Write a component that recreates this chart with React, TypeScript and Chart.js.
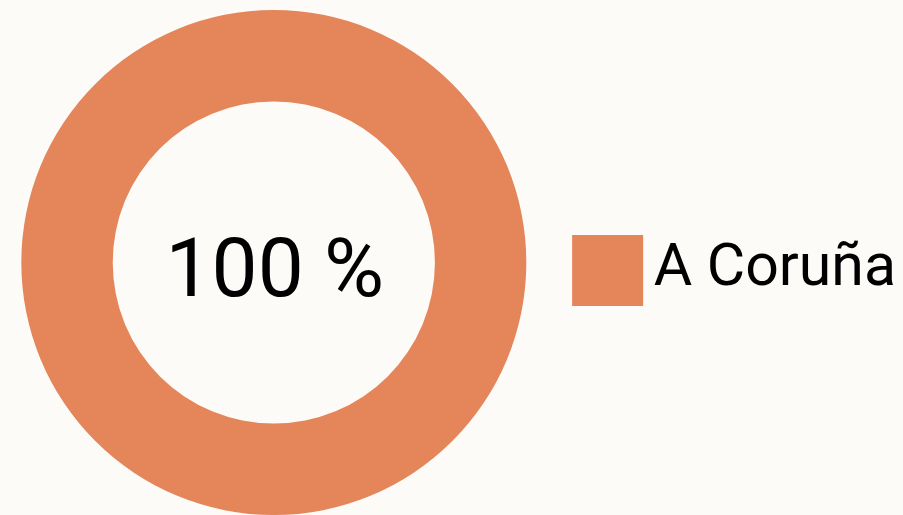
import React, { useEffect, useRef } from "react";
import { Chart, registerables } from "chart.js";

Chart.register(...registerables);

const labels = ["A Coruña"];
const values = [100];
const colors = ["#E5855A"];
const centerText = "100 %";

const BG = "#FCFBF7";

const centerTextPlugin = {
  id: "centerText",
  afterDatasetsDraw(chart: any) {
    const meta = chart.getDatasetMeta(0);
    const arc = meta.data[0];
    if (!arc) return;
    const { x, y } = arc.getProps(["x", "y"], true);
    const ctx = chart.ctx;
    ctx.save();
    ctx.font = "82px Roboto";
    ctx.fillStyle = "#000";
    ctx.textAlign = "center";
    ctx.textBaseline = "alphabetic";
    ctx.fillText(centerText, x + 1, y + 33);
    ctx.restore();
  },
};

export default function App() {
  const ref = useRef<HTMLCanvasElement>(null);
  useEffect(() => {
    const chart = new Chart(ref.current!, {
      type: "doughnut",
      data: {
        labels,
        datasets: [
          {
            data: values,
            backgroundColor: colors,
            borderWidth: 0,
          },
        ],
      },
      options: {
        responsive: false,
        animation: false,
        cutout: "63.8%",
        layout: { padding: { top: 10, left: 0, right: -3, bottom: 0 } },
        plugins: {
          tooltip: { enabled: false },
          legend: {
            position: "right",
            title: {
              display: true,
              text: "",
              font: { size: 1, lineHeight: 1 },
              padding: { top: 0, bottom: 15 },
            },
            labels: {
              boxWidth: 33,
              boxHeight: 33,
              padding: 43.5,
              color: "#000",
              font: { family: "Roboto", size: 59 },
              generateLabels: () =>
                labels.map((t, i) => ({
                  text: t,
                  fillStyle: colors[i],
                  strokeStyle: colors[i],
                  lineWidth: 38,
                  hidden: false,
                  index: i,
                  fontColor: "#000",
                })),
            },
          },
        },
      },
      plugins: [centerTextPlugin],
    });
    return () => chart.destroy();
  }, []);
  return (
    <div
      style={{
        position: "fixed",
        left: 0,
        top: 0,
        width: 903,
        height: 515,
        background: BG,
      }}
    >
      <canvas ref={ref} width={903} height={515} style={{ display: "block" }} />
    </div>
  );
}
